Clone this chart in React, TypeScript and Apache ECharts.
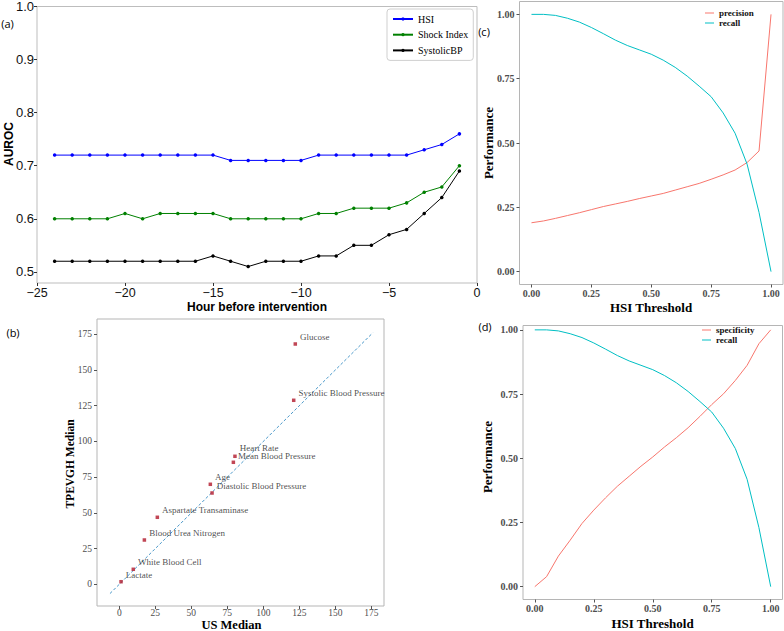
import React, { useEffect, useRef } from 'react';
import * as echarts from 'echarts';

// ---------- (a) AUROC by hour ----------
const hours = [-24, -23, -22, -21, -20, -19, -18, -17, -16, -15, -14, -13, -12, -11, -10, -9, -8, -7, -6, -5, -4, -3, -2, -1];
const hsiAuroc = [0.72, 0.72, 0.72, 0.72, 0.72, 0.72, 0.72, 0.72, 0.72, 0.72, 0.71, 0.71, 0.71, 0.71, 0.71, 0.72, 0.72, 0.72, 0.72, 0.72, 0.72, 0.73, 0.74, 0.76];
const shockIndexAuroc = [0.60, 0.60, 0.60, 0.60, 0.61, 0.60, 0.61, 0.61, 0.61, 0.61, 0.60, 0.60, 0.60, 0.60, 0.60, 0.61, 0.61, 0.62, 0.62, 0.62, 0.63, 0.65, 0.66, 0.70];
const systolicBpAuroc = [0.52, 0.52, 0.52, 0.52, 0.52, 0.52, 0.52, 0.52, 0.52, 0.53, 0.52, 0.51, 0.52, 0.52, 0.52, 0.53, 0.53, 0.55, 0.55, 0.57, 0.58, 0.61, 0.64, 0.69];
const aurocTicks = [0.5, 0.6, 0.7, 0.8, 0.9, 1.0];

// ---------- (b) medians ----------
const featureNames = ['Glucose', 'Systolic Blood Pressure', 'Heart Rate', 'Mean Blood Pressure', 'Age', 'Diastolic Blood Pressure', 'Aspartate Transaminase', 'Blood Urea Nitrogen', 'White Blood Cell', 'Lactate'];
const usMedian = [122.2, 121.1, 80.3, 79.2, 63.2, 64.4, 26.4, 17.4, 9.7, 1.2];
const tpevghMedian = [168.2, 128.8, 89.6, 85.4, 70.0, 63.9, 46.9, 31.0, 10.5, 1.8];
const identityLine = [-6.5, 176];
const medianTicks = [0, 25, 50, 75, 100, 125, 150, 175];

// ---------- (c)/(d) thresholds ----------
const thresholds = [0, 0.05, 0.1, 0.15, 0.2, 0.25, 0.3, 0.35, 0.4, 0.45, 0.5, 0.55, 0.6, 0.65, 0.7, 0.75, 0.8, 0.85, 0.9, 0.95, 1.0];
const precision = [0.19, 0.197, 0.207, 0.218, 0.229, 0.241, 0.253, 0.263, 0.273, 0.284, 0.294, 0.304, 0.317, 0.33, 0.343, 0.359, 0.376, 0.395, 0.424, 0.469, 1.0];
const recall = [1.0, 1.0, 0.996, 0.985, 0.97, 0.949, 0.925, 0.9, 0.879, 0.862, 0.845, 0.822, 0.794, 0.76, 0.721, 0.68, 0.617, 0.538, 0.418, 0.23, 0.0];
const specificity = [0.0, 0.039, 0.119, 0.181, 0.246, 0.298, 0.346, 0.391, 0.43, 0.469, 0.505, 0.544, 0.58, 0.619, 0.663, 0.709, 0.751, 0.803, 0.862, 0.946, 1.0];
const perfTicks = [0, 0.25, 0.5, 0.75, 1.0];

const serif = "'Liberation Serif', 'Times New Roman', serif";
const sans = "'Liberation Sans', Arial, sans-serif";
const ggGray = '#4d4d4d';
const frame = '#b5b5b5';

function pairs(xs: number[], ys: number[]) {
  return xs.map((x, i) => [x, ys[i]]);
}

function buildOption() {
  const minusFmt = (v: number) => (v < 0 ? '\u2212' + Math.abs(v) : String(v));
  const noLine = { show: false, onZero: false };
  const f2 = (v: number) => v.toFixed(2);

  const ggAxis = (grid: number, min: number, max: number, ticks: number[], fontSize: number, fontWeight: string, margin: number, fmt?: (v: number) => string) => ({
    type: 'value', gridIndex: grid, min, max,
    axisLine: noLine,
    splitLine: { show: false },
    axisTick: { show: true, length: 3, customValues: ticks, lineStyle: { color: '#555', width: 1 } },
    axisLabel: {
      fontFamily: serif, fontSize, fontWeight, color: ggGray, margin, customValues: ticks, lineHeight: fontSize,
      ...(fmt ? { formatter: fmt } : {}),
    },
  });

  const txt = (text: string, x: number, y: number, font: any, rotation = 0) => ({
    type: 'text', x, y, rotation, silent: true,
    style: { text, fill: '#000', align: 'center', verticalAlign: 'middle', ...font },
  });

  const labelOffsets: Record<string, number[]> = {
    'Heart Rate': [0, -8.5],
    'Mean Blood Pressure': [0, -6],
  };

  return {
    animation: false,
    backgroundColor: '#fff',
    grid: [
      { left: 37, top: 5, width: 440, height: 278, show: true, borderColor: '#bdbdbd', borderWidth: 1 },
      { left: 97, top: 319, width: 287, height: 287, show: true, borderColor: frame, borderWidth: 1 },
      { left: 519.5, top: 1.5, width: 263.5, height: 283, show: true, borderColor: frame, borderWidth: 1 },
      { left: 523, top: 325.5, width: 259.5, height: 274, show: true, borderColor: frame, borderWidth: 1 },
    ],
    xAxis: [
      {
        type: 'value', gridIndex: 0, min: -25, max: 0, interval: 5,
        axisLine: noLine, splitLine: { show: false },
        axisTick: { show: true, length: 3, lineStyle: { color: '#333' } },
        axisLabel: { fontFamily: sans, fontSize: 12.5, color: '#111', margin: 3, formatter: minusFmt },
      },
      ggAxis(1, -15.5, 183.8, medianTicks, 9.5, 'normal', 2),
      ggAxis(2, -0.05, 1.05, perfTicks, 10, 'bold', 4, f2),
      ggAxis(3, -0.05, 1.05, perfTicks, 10, 'bold', 4, f2),
    ],
    yAxis: [
      {
        type: 'value', gridIndex: 0, min: 0.479, max: 1.0,
        axisLine: noLine, splitLine: { show: false },
        axisTick: { show: true, length: 3, customValues: aurocTicks, lineStyle: { color: '#333' } },
        axisLabel: { fontFamily: sans, fontSize: 13, color: '#111', margin: 3, customValues: aurocTicks, formatter: (v: number) => v.toFixed(1) },
      },
      ggAxis(1, -15.2, 185.7, medianTicks, 9.5, 'normal', 5),
      ggAxis(2, -0.05, 1.05, perfTicks, 10, 'bold', 5, f2),
      ggAxis(3, -0.05, 1.017, perfTicks, 10, 'bold', 5, f2),
    ],
    legend: [
      {
        data: ['HSI', 'Shock Index', 'SystolicBP'], orient: 'vertical', left: 387, top: 9,
        padding: [4, 5, 4, 5], itemWidth: 20, itemHeight: 4, itemGap: 3.7,
        borderColor: '#cfcfcf', borderWidth: 1, borderRadius: 3, selectedMode: false,
        textStyle: { fontFamily: serif, fontSize: 10, color: '#000', lineHeight: 12 },
      },
      {
        data: [{ name: 'precision', icon: 'rect' }, { name: 'recall', icon: 'rect' }], orient: 'vertical', left: 705, top: 8,
        padding: 0, itemWidth: 9, itemHeight: 1, itemGap: 0, selectedMode: false,
        textStyle: { fontFamily: serif, fontSize: 9, fontWeight: 'bold', color: '#111', lineHeight: 10 },
      },
      {
        data: [{ name: 'specificity', icon: 'rect' }, { name: 'recall', icon: 'rect' }], orient: 'vertical', left: 702, top: 325,
        padding: 0, itemWidth: 9, itemHeight: 1, itemGap: 0, selectedMode: false,
        textStyle: { fontFamily: serif, fontSize: 9, fontWeight: 'bold', color: '#111', lineHeight: 10 },
      },
    ],
    graphic: [
      txt('(a)', 7.5, 23.5, { fontFamily: "'Open Sans', sans-serif", fontSize: 11 }),
      txt('(b)', 13, 332, { fontFamily: "'Open Sans', sans-serif", fontSize: 11 }),
      txt('(c)', 484, 31, { fontFamily: "'Open Sans', sans-serif", fontSize: 11 }),
      txt('(d)', 485, 326, { fontFamily: "'Open Sans', sans-serif", fontSize: 11 }),
      txt('AUROC', 8.5, 144, { fontFamily: sans, fontSize: 12, fontWeight: 'bold' }, Math.PI / 2),
      txt('Hour before intervention', 257, 306.5, { fontFamily: sans, fontSize: 12, fontWeight: 'bold' }),
      txt('TPEVGH Median', 70, 464, { fontFamily: serif, fontSize: 11.5, fontWeight: 'bold' }, Math.PI / 2),
      txt('US Median', 231.5, 624.5, { fontFamily: serif, fontSize: 12.5, fontWeight: 'bold', lineHeight: 12 }),
      txt('Performance', 488, 143, { fontFamily: serif, fontSize: 13, fontWeight: 'bold' }, Math.PI / 2),
      txt('Performance', 487, 457, { fontFamily: serif, fontSize: 13, fontWeight: 'bold' }, Math.PI / 2),
      txt('HSI Threshold', 651, 307, { fontFamily: serif, fontSize: 13, fontWeight: 'bold' }),
      txt('HSI Threshold', 652.5, 623.5, { fontFamily: serif, fontSize: 13, fontWeight: 'bold' }),
    ],
    series: [
      { name: 'HSI', type: 'line', xAxisIndex: 0, yAxisIndex: 0, data: pairs(hours, hsiAuroc), symbol: 'circle', symbolSize: 3.5, color: '#0000ff', lineStyle: { width: 1 }, silent: true },
      { name: 'Shock Index', type: 'line', xAxisIndex: 0, yAxisIndex: 0, data: pairs(hours, shockIndexAuroc), symbol: 'circle', symbolSize: 3.5, color: '#008000', lineStyle: { width: 1 }, silent: true },
      { name: 'SystolicBP', type: 'line', xAxisIndex: 0, yAxisIndex: 0, data: pairs(hours, systolicBpAuroc), symbol: 'circle', symbolSize: 3.5, color: '#000000', lineStyle: { width: 1 }, silent: true },
      {
        name: 'identity', type: 'line', xAxisIndex: 1, yAxisIndex: 1, data: identityLine.map((v) => [v, v]),
        symbol: 'none', lineStyle: { type: [3, 2], width: 1, color: '#4a98c9' }, silent: true, z: 1,
      },
      {
        name: 'features', type: 'scatter', xAxisIndex: 1, yAxisIndex: 1, symbol: 'rect', symbolSize: 3.5,
        itemStyle: { color: '#b2182b' }, silent: true, z: 3,
        data: featureNames.map((n, i) => ({
          name: n, value: [usMedian[i], tpevghMedian[i]],
          ...(labelOffsets[n] ? { label: { offset: labelOffsets[n] } } : {}),
        })),
        label: { show: true, position: 'right', distance: 3, offset: [0, -7], formatter: '{b}', fontFamily: serif, fontSize: 9, color: '#1a1a1a' },
      },
      { name: 'precision', type: 'line', xAxisIndex: 2, yAxisIndex: 2, data: pairs(thresholds, precision), symbol: 'none', color: '#F8766D', lineStyle: { width: 1 }, silent: true },
      { name: 'recall', type: 'line', xAxisIndex: 2, yAxisIndex: 2, data: pairs(thresholds, recall), symbol: 'none', color: '#00BFC4', lineStyle: { width: 1 }, silent: true },
      { name: 'specificity', type: 'line', xAxisIndex: 3, yAxisIndex: 3, data: pairs(thresholds, specificity), symbol: 'none', color: '#F8766D', lineStyle: { width: 1 }, silent: true },
      { name: 'recall', type: 'line', xAxisIndex: 3, yAxisIndex: 3, data: pairs(thresholds, recall), symbol: 'none', color: '#00BFC4', lineStyle: { width: 1 }, silent: true },
    ],
  };
}

export default function App() {
  const ref = useRef<HTMLDivElement>(null);
  useEffect(() => {
    if (!ref.current) return;
    const chart = echarts.init(ref.current, null, { renderer: 'svg' });
    chart.setOption(buildOption() as any);
    return () => chart.dispose();
  }, []);
  return <div ref={ref} style={{ position: 'absolute', left: 0, top: 0, width: 784, height: 631 }} />;
}
